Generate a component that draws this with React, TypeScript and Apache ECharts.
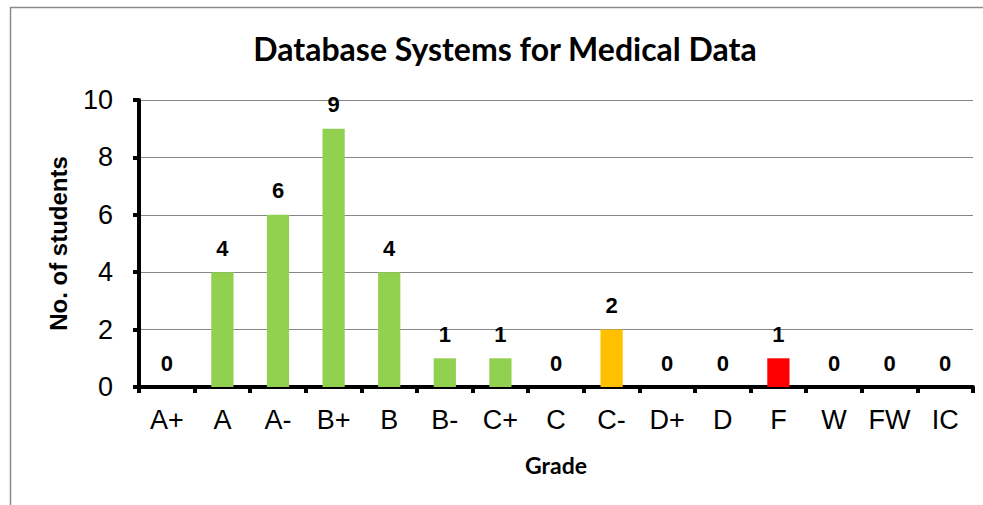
import React, { useEffect, useRef } from "react";
import * as echarts from "echarts";

const grades = ["A+", "A", "A-", "B+", "B", "B-", "C+", "C", "C-", "D+", "D", "F", "W", "FW", "IC"];
const counts = [0, 4, 6, 9, 4, 1, 1, 0, 2, 0, 0, 1, 0, 0, 0];
const barColors = ["#92D050", "#92D050", "#92D050", "#92D050", "#92D050", "#92D050", "#92D050", "#92D050", "#FFC000", "#92D050", "#92D050", "#FF0000", "#92D050", "#92D050", "#92D050"];
const yTicks = { min: 0, max: 10, interval: 2 };

export default function App() {
  const ref = useRef<HTMLDivElement>(null);
  useEffect(() => {
    document.body.style.margin = "0";
    document.body.style.overflow = "hidden";
    const chart = echarts.init(ref.current!, null, { renderer: "svg" });
    chart.setOption({
      animation: false,
      backgroundColor: "#ffffff",
      title: {
        text: "Database Systems for Medical Data",
        left: 500,
        top: 27,
        textAlign: "center",
        textStyle: { fontFamily: "Lato", fontWeight: "bold", fontSize: 32, color: "#000" },
      },
      graphic: [
        {
          type: "line",
          shape: { x1: 10, y1: 7.5, x2: 983, y2: 7.5 },
          style: { stroke: "#8c8c8c", lineWidth: 1.5 },
          silent: true,
        },
        {
          type: "line",
          shape: { x1: 10.5, y1: 7, x2: 10.5, y2: 505 },
          style: { stroke: "#8c8c8c", lineWidth: 1.5 },
          silent: true,
        },
      ],
      grid: { left: 139, right: 10, top: 100, bottom: 118, containLabel: false },
      xAxis: {
        type: "category",
        data: grades,
        name: "Grade",
        nameLocation: "middle",
        nameGap: 66,
        nameTextStyle: { fontFamily: "Lato", fontWeight: "bold", fontSize: 23, color: "#000" },
        axisLine: { lineStyle: { color: "#000", width: 4 } },
        axisTick: { show: true, length: 6, lineStyle: { color: "#000", width: 4 } },
        axisLabel: { fontFamily: "Liberation Sans", fontSize: 27, color: "#000", margin: 19 },
      },
      yAxis: {
        type: "value",
        min: yTicks.min,
        max: yTicks.max,
        interval: yTicks.interval,
        name: "No. of students",
        nameLocation: "middle",
        nameGap: 69,
        nameTextStyle: { fontFamily: "Liberation Sans", fontWeight: "bold", fontSize: 24, color: "#000" },
        axisLine: { show: true, lineStyle: { color: "#000", width: 4 } },
        axisTick: { show: true, length: 6, lineStyle: { color: "#000", width: 4 } },
        axisLabel: { fontFamily: "Liberation Sans", fontSize: 27, color: "#000", margin: 26 },
        splitLine: { lineStyle: { color: "#868686", width: 1 } },
      },
      series: [
        {
          type: "bar",
          barWidth: "40%",
          data: counts.map((v, i) => ({ value: v, itemStyle: { color: barColors[i] } })),
          label: {
            show: true,
            position: "top",
            distance: 13,
            fontFamily: "Liberation Sans",
            fontWeight: "bold",
            fontSize: 22,
            color: "#000",
          },
        },
      ],
    });
    return () => chart.dispose();
  }, []);
  return <div ref={ref} style={{ width: 983, height: 505 }} />;
}
